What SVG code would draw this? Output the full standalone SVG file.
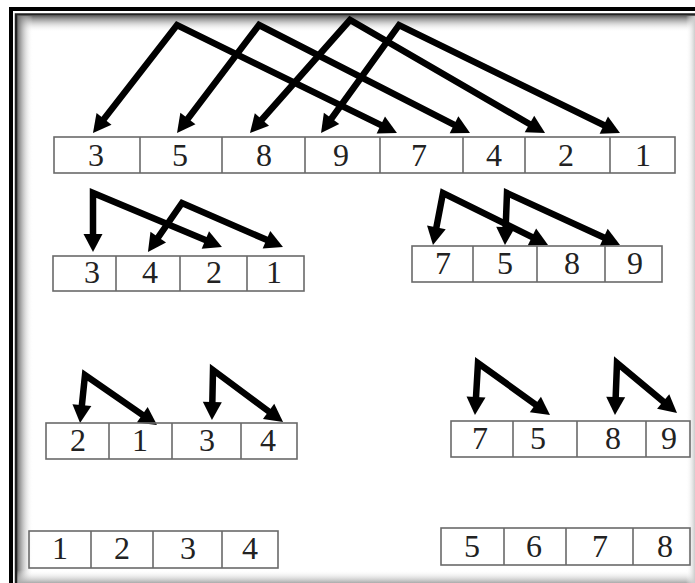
<svg xmlns="http://www.w3.org/2000/svg" width="695" height="583" viewBox="0 0 695 583">
<defs>
<style>
.cell{fill:none;stroke:#6a6a6a;stroke-width:1.6}
.num{font-family:"Liberation Serif","Times New Roman",serif;font-size:32px;fill:#222;text-anchor:middle}
.arr{fill:none;stroke:#000;stroke-width:6.5;stroke-linejoin:miter;stroke-miterlimit:10;marker-start:url(#ah);marker-end:url(#ah)}
</style>
<marker id="ah" markerUnits="userSpaceOnUse" viewBox="0 -10 22 20" refX="2" refY="0" markerWidth="22" markerHeight="20" orient="auto-start-reverse" overflow="visible">
<path d="M0,-9.5 L18,0 L0,9.5 z" fill="#000"/>
</marker>
<linearGradient id="gl" x1="0" y1="0" x2="1" y2="0"><stop offset="0" stop-color="#666"/><stop offset="1" stop-color="#fff" stop-opacity="0"/></linearGradient>
<linearGradient id="gt" x1="0" y1="0" x2="0" y2="1"><stop offset="0" stop-color="#666"/><stop offset="1" stop-color="#fff" stop-opacity="0"/></linearGradient>
<linearGradient id="gb" x1="0" y1="0" x2="0" y2="1"><stop offset="0" stop-color="#fff" stop-opacity="0"/><stop offset="1" stop-color="#aaa"/></linearGradient>
<linearGradient id="gr" x1="0" y1="0" x2="1" y2="0"><stop offset="0" stop-color="#fff" stop-opacity="0"/><stop offset="1" stop-color="#ccc"/></linearGradient>
</defs>
<rect width="695" height="583" fill="#fff"/>
<g id="frame">
<rect x="17" y="16" width="678" height="16" fill="url(#gt)"/>
<rect x="17" y="16" width="16" height="567" fill="url(#gl)"/>
<rect x="17" y="570" width="678" height="13" fill="url(#gb)"/>
<rect x="686" y="16" width="9" height="567" fill="url(#gr)"/>
<path d="M11,583 V9 H695" fill="none" stroke="#000" stroke-width="4"/>
<path d="M16,583 V14.5 H695" fill="none" stroke="#222" stroke-width="2.5"/>
</g>
<g id="connectors">
<path class="arr" d="M102.8,120.4 L177,25 L382.6,125.9"/>
<path class="arr" d="M186.7,120.2 L259,25 L455.8,125.7"/>
<path class="arr" d="M260.6,121 L350,20 L531.2,125"/>
<path class="arr" d="M330.4,120 L399,25 L605.6,126"/>
<path class="arr" d="M93,236 L93,193 L207.2,240.8"/>
<path class="arr" d="M157.1,238.8 L182,203 L268.3,240.6"/>
<path class="arr" d="M436,229.3 L443,193 L533.7,237.9"/>
<path class="arr" d="M505.6,229 L507,193 L605.5,238.3"/>
<path class="arr" d="M81.7,407.1 L85,375 L143.9,415.9"/>
<path class="arr" d="M212.3,404 L213,370 L270.2,412.5"/>
<path class="arr" d="M475.9,399 L478,363 L537,405.6"/>
<path class="arr" d="M615.6,399 L617,363 L664.7,402.8"/>
</g>
<g id="array-top">
<rect class="cell" x="54" y="137" width="621" height="36"/>
<path class="cell" d="M140,137V173M222,137V173M305,137V173M380,137V173M463,137V173M525,137V173M610,137V173"/>
<text class="num" x="96" y="166">3</text>
<text class="num" x="180" y="166">5</text>
<text class="num" x="264" y="166">8</text>
<text class="num" x="341" y="166">9</text>
<text class="num" x="419" y="166">7</text>
<text class="num" x="494" y="166">4</text>
<text class="num" x="566" y="166">2</text>
<text class="num" x="643" y="166">1</text>
</g>
<g id="array-l2">
<rect class="cell" x="53" y="256" width="251" height="35"/>
<path class="cell" d="M116,256V291M180,256V291M247,256V291"/>
<text class="num" x="92" y="283">3</text>
<text class="num" x="150" y="283">4</text>
<text class="num" x="214" y="283">2</text>
<text class="num" x="274" y="283">1</text>
</g>
<g id="array-r2">
<rect class="cell" x="412" y="246" width="250" height="36"/>
<path class="cell" d="M473,246V282M537,246V282M605,246V282"/>
<text class="num" x="443" y="274">7</text>
<text class="num" x="505" y="274">5</text>
<text class="num" x="572" y="274">8</text>
<text class="num" x="635" y="274">9</text>
</g>
<g id="array-l3">
<rect class="cell" x="46" y="423" width="251" height="36"/>
<path class="cell" d="M109,423V459M172,423V459M241,423V459"/>
<text class="num" x="78" y="451">2</text>
<text class="num" x="140" y="451">1</text>
<text class="num" x="207" y="451">3</text>
<text class="num" x="268" y="451">4</text>
</g>
<g id="array-r3">
<rect class="cell" x="451" y="421" width="239" height="36"/>
<path class="cell" d="M513,421V457M577,421V457M646,421V457"/>
<text class="num" x="480" y="449">7</text>
<text class="num" x="538" y="449">5</text>
<text class="num" x="613" y="449">8</text>
<text class="num" x="669" y="449">9</text>
</g>
<g id="array-l4">
<rect class="cell" x="29" y="531" width="249" height="37"/>
<path class="cell" d="M91,531V568M153,531V568M222,531V568"/>
<text class="num" x="60" y="559">1</text>
<text class="num" x="122" y="559">2</text>
<text class="num" x="188" y="559">3</text>
<text class="num" x="250" y="559">4</text>
</g>
<g id="array-r4">
<rect class="cell" x="441" y="528" width="249" height="37"/>
<path class="cell" d="M504,528V565M566,528V565M633,528V565"/>
<text class="num" x="472" y="557">5</text>
<text class="num" x="534" y="557">6</text>
<text class="num" x="600" y="557">7</text>
<text class="num" x="665" y="557">8</text>
</g>
</svg>
